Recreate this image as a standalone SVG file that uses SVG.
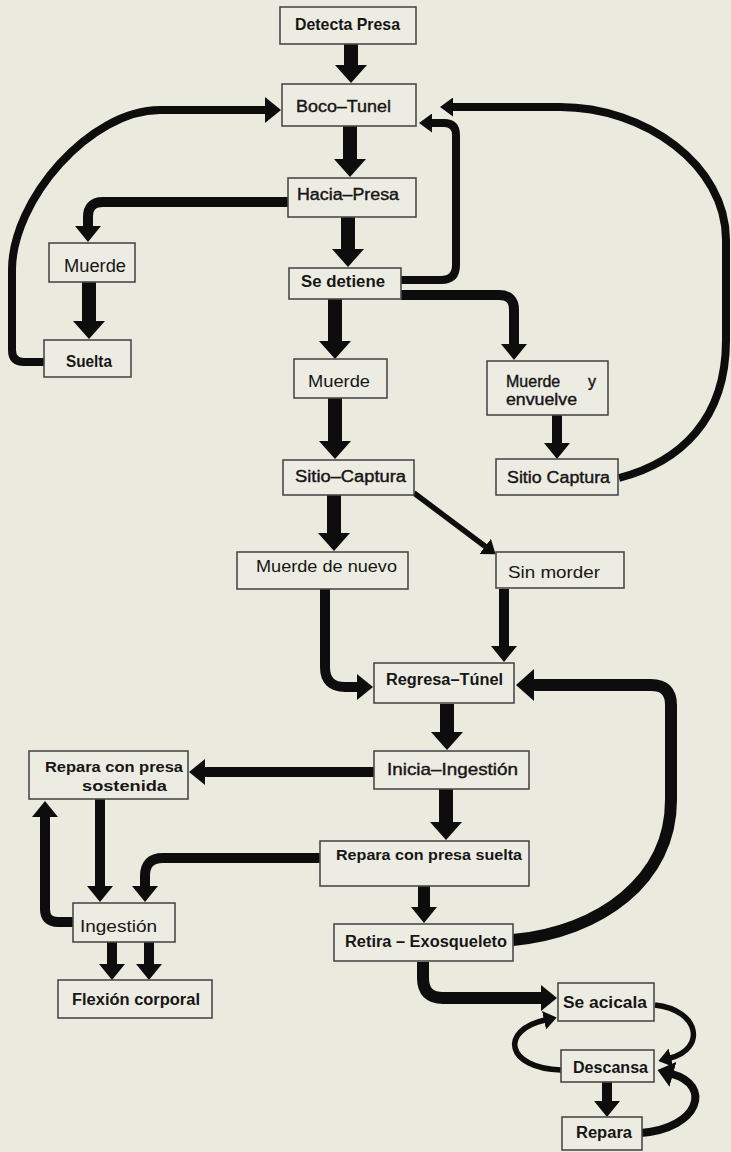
<svg xmlns="http://www.w3.org/2000/svg" width="731" height="1152" viewBox="0 0 731 1152">
<style>
.bg{fill:#ebeadf}
.box rect{fill:#edece2;stroke:#4a4a4a;stroke-width:1.6}
.box text{font-family:"Liberation Sans",Arial,sans-serif;fill:#161616}
.b{font-weight:bold}
.r{font-weight:normal}
.m{font-weight:normal;stroke:#161616;stroke-width:0.4}
#connectors path{fill:none;stroke:#0d0d0d;stroke-linecap:butt;stroke-linejoin:round}
.w14{stroke-width:14}
.w12{stroke-width:12}
.w10{stroke-width:10}
.w8{stroke-width:8}
.w6{stroke-width:5.5}
.h14{marker-end:url(#h14)}
.h10{marker-end:url(#h10)}
.h6{marker-end:url(#h6)}
</style>
<defs>
<marker id="h14" markerUnits="userSpaceOnUse" viewBox="0 0 18 32" markerWidth="18" markerHeight="32" refX="1" refY="16" orient="auto"><path d="M0,0 L18,16 L0,32 z" fill="#0d0d0d"/></marker>
<marker id="h10" markerUnits="userSpaceOnUse" viewBox="0 0 16 26" markerWidth="16" markerHeight="26" refX="1" refY="13" orient="auto"><path d="M0,0 L16,13 L0,26 z" fill="#0d0d0d"/></marker>
<marker id="h6" markerUnits="userSpaceOnUse" viewBox="0 0 13 19" markerWidth="13" markerHeight="19" refX="1" refY="9.5" orient="auto"><path d="M0,0 L13,9.5 L0,19 z" fill="#0d0d0d"/></marker>
</defs>
<rect class="bg" x="0" y="0" width="731" height="1152"/>

<g id="connectors">
<path class="w14 h14" d="M351 44 V66"/>
<path class="w14 h14" d="M350 126 V160"/>
<path class="w14 h14" d="M348 217 V250"/>
<path class="w14 h14" d="M335 299 V342"/>
<path class="w14 h14" d="M335 398 V442"/>
<path class="w10 h10" d="M288 202 H103 Q88 202 88 217 V227"/>
<path class="w14 h14" d="M89 282 V322"/>
<path class="w8 h10" d="M44 362 H24 Q12 362 12 350 V270 C12 200 90 110 160 110 H266"/>
<path class="w8 h6" d="M401 280 H441 Q456 280 456 265 V135 Q456 123 444 123 H431"/>
<path class="w8 h6" d="M619 478 C680 462 726 420 726 340 V240 C726 165 645 107 560 107 H452"/>
<path class="w10 h10" d="M401 295 H499 Q514 295 514 310 V345"/>
<path class="w10 h10" d="M557 415 V444"/>
<path class="w14 h14" d="M334 495 V534"/>
<path class="w6 h6" d="M414 493 L486 547"/>
<path class="w10 h10" d="M325 589 V667 Q325 687 345 687 H358"/>
<path class="w10 h10" d="M504 589 V647"/>
<path class="w12 h14" d="M513 940 C600 932 671 880 671 800 V705 Q671 685 651 685 H533"/>
<path class="w14 h14" d="M447 704 V733"/>
<path class="w10 h10" d="M374 772 H204"/>
<path class="w14 h14" d="M446 789 V823"/>
<path class="w10 h10" d="M100 799 V887"/>
<path class="w10 h10" d="M73 922 H58 Q45 922 45 909 V816"/>
<path class="w10 h10" d="M320 858 H163 Q145 858 145 876 V887"/>
<path class="w10 h10" d="M112 942 V965"/>
<path class="w10 h10" d="M149 942 V965"/>
<path class="w12 h10" d="M424 886 V908"/>
<path class="w12 h10" d="M423 962 V978 Q423 998 443 998 H542"/>
<path class="w6 h6" d="M655 1005 C700 1010 706 1049 670 1058"/>
<path class="w6 h6" d="M561 1070 C505 1068 500 1030 545 1020"/>
<path class="w10 h10" d="M607 1082 V1102"/>
<path class="w8 h10" d="M641 1133 C700 1128 712 1085 672 1074"/>
</g>

<g id="n-detecta" class="box"><rect x="280" y="7" width="136" height="37"/><text class="b" x="295" y="30" font-size="17" textLength="105" lengthAdjust="spacingAndGlyphs">Detecta Presa</text></g>
<g id="n-boco" class="box"><rect x="282" y="84" width="134" height="42"/><text class="m" x="296" y="112" font-size="17" textLength="95" lengthAdjust="spacingAndGlyphs">Boco–Tunel</text></g>
<g id="n-hacia" class="box"><rect x="288" y="178" width="128" height="39"/><text class="m" x="297" y="200" font-size="16" textLength="102" lengthAdjust="spacingAndGlyphs">Hacia–Presa</text></g>
<g id="n-muerde1" class="box"><rect x="49" y="243" width="86" height="39"/><text class="r" x="64" y="272" font-size="18" textLength="62" lengthAdjust="spacingAndGlyphs">Muerde</text></g>
<g id="n-detiene" class="box"><rect x="289" y="268" width="112" height="31"/><text class="b" x="301" y="287" font-size="17" textLength="84" lengthAdjust="spacingAndGlyphs">Se detiene</text></g>
<g id="n-suelta" class="box"><rect x="44" y="340" width="87" height="37"/><text class="b" x="66" y="367" font-size="17" textLength="46" lengthAdjust="spacingAndGlyphs">Suelta</text></g>
<g id="n-muerde2" class="box"><rect x="294" y="359" width="93" height="39"/><text class="r" x="308" y="387" font-size="17" textLength="62" lengthAdjust="spacingAndGlyphs">Muerde</text></g>
<g id="n-envuelve" class="box"><rect x="487" y="361" width="121" height="54"/><text class="m" x="506" y="387" font-size="16">Muerde <tspan x="588">y</tspan></text><text class="m" x="506" y="405" font-size="16" textLength="71" lengthAdjust="spacingAndGlyphs">envuelve</text></g>
<g id="n-sitio1" class="box"><rect x="283" y="460" width="131" height="35"/><text class="m" x="295" y="482" font-size="16" textLength="111" lengthAdjust="spacingAndGlyphs">Sitio–Captura</text></g>
<g id="n-sitio2" class="box"><rect x="496" y="459" width="122" height="36"/><text class="m" x="507" y="483" font-size="16" textLength="103" lengthAdjust="spacingAndGlyphs">Sitio Captura</text></g>
<g id="n-denuevo" class="box"><rect x="237" y="552" width="171" height="37"/><text class="r" x="256" y="572" font-size="17" textLength="141" lengthAdjust="spacingAndGlyphs">Muerde de nuevo</text></g>
<g id="n-sinmorder" class="box"><rect x="496" y="552" width="128" height="36"/><text class="r" x="508" y="578" font-size="17" textLength="92" lengthAdjust="spacingAndGlyphs">Sin morder</text></g>
<g id="n-regresa" class="box"><rect x="374" y="663" width="140" height="40"/><text class="b" x="386" y="685" font-size="16" textLength="117" lengthAdjust="spacingAndGlyphs">Regresa–Túnel</text></g>
<g id="n-inicia" class="box"><rect x="374" y="751" width="155" height="38"/><text class="m" x="387" y="775" font-size="17" textLength="131" lengthAdjust="spacingAndGlyphs">Inicia–Ingestión</text></g>
<g id="n-sostenida" class="box"><rect x="29" y="751" width="159" height="48"/><text class="b" x="45" y="772" font-size="15.5" textLength="138" lengthAdjust="spacingAndGlyphs">Repara con presa</text><text class="b" x="82" y="791" font-size="15.5" textLength="85" lengthAdjust="spacingAndGlyphs">sostenida</text></g>
<g id="n-suelta2" class="box"><rect x="320" y="841" width="209" height="45"/><text class="b" x="336" y="860" font-size="15.5" textLength="186" lengthAdjust="spacingAndGlyphs">Repara con presa suelta</text></g>
<g id="n-ingestion" class="box"><rect x="73" y="903" width="102" height="39"/><text class="r" x="80" y="932" font-size="16.5" textLength="77" lengthAdjust="spacingAndGlyphs">Ingestión</text></g>
<g id="n-retira" class="box"><rect x="334" y="924" width="179" height="37"/><text class="b" x="345" y="947" font-size="16" textLength="162" lengthAdjust="spacingAndGlyphs">Retira – Exosqueleto</text></g>
<g id="n-flexion" class="box"><rect x="58" y="980" width="154" height="38"/><text class="b" x="72" y="1005" font-size="16" textLength="128" lengthAdjust="spacingAndGlyphs">Flexión corporal</text></g>
<g id="n-acicala" class="box"><rect x="558" y="983" width="96" height="38"/><text class="b" x="563" y="1008" font-size="16" textLength="84" lengthAdjust="spacingAndGlyphs">Se acicala</text></g>
<g id="n-descansa" class="box"><rect x="561" y="1050" width="93" height="32"/><text class="b" x="573" y="1073" font-size="16" textLength="75" lengthAdjust="spacingAndGlyphs">Descansa</text></g>
<g id="n-repara" class="box"><rect x="562" y="1117" width="80" height="33"/><text class="b" x="576" y="1138" font-size="16" textLength="56" lengthAdjust="spacingAndGlyphs">Repara</text></g>
</svg>
